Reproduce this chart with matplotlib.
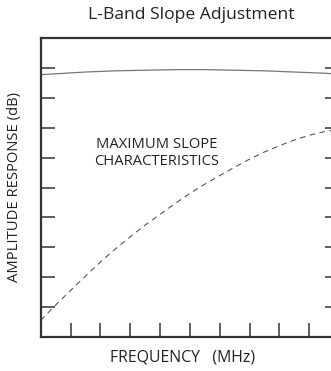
import numpy as np
import matplotlib
matplotlib.use("Agg")
import matplotlib.pyplot as plt

plt.rcParams['font.family'] = ['Open Sans', 'DejaVu Sans']

# frequency axis (arbitrary units, 0..10 grid)
freq = [0, 0.5, 1, 1.5, 2, 2.5, 3, 3.5, 4, 4.5, 5, 5.5, 6, 6.5, 7, 7.5, 8, 8.5, 9, 9.5, 10]
# flat response (solid)
flat = [8.78, 8.81, 8.84, 8.87, 8.89, 8.91, 8.92, 8.93, 8.94, 8.95, 8.95,
        8.95, 8.94, 8.93, 8.92, 8.91, 8.89, 8.87, 8.85, 8.83, 8.80]
# maximum slope (dashed)
slope = [0.55, 1.06, 1.55, 2.03, 2.50, 2.94, 3.35, 3.74, 4.10, 4.46, 4.80,
         5.11, 5.40, 5.68, 5.95, 6.19, 6.40, 6.59, 6.75, 6.87, 6.95]

ticks = [1, 2, 3, 4, 5, 6, 7, 8, 9]

fig = plt.figure(figsize=(3.31, 3.71), dpi=100)
ax = fig.add_axes([40.7/331, 1-336.7/371, (339-40.7)/331, (336.7-38.3)/371])

ax.plot(freq, flat, '-', color='#777777', lw=0.9)
ax.plot(freq, slope, '--', color='#555555', lw=0.8, dashes=(5, 4))

ax.set_xlim(0, 10)
ax.set_ylim(0, 10)
ax.set_xticks(ticks)
ax.set_yticks(ticks)
ax.set_xticklabels([])
ax.set_yticklabels([])
ax.tick_params(axis='both', direction='in', length=10, width=1.1, color='#333333')
ax.tick_params(axis='y', right=True)
for s in ['left', 'bottom', 'top']:
    ax.spines[s].set_linewidth(1.6)
    ax.spines[s].set_color('#333333')
ax.spines['right'].set_visible(False)

ax.text(3.89, 6.15, "MAXIMUM SLOPE\nCHARACTERISTICS", ha='center', va='center',
        fontsize=10.6, color='#222222', linespacing=1.2)

fig.text(191/331, 1-15/371, "L-Band Slope Adjustment", ha='center', va='center',
         fontsize=12.6, color='#222222')
fig.text(182.5/331, 1-357/371, "FREQUENCY   (MHz)", ha='center', va='center',
         fontsize=11.4, color='#222222')
fig.text(15/331, 1-187.5/371, "AMPLITUDE RESPONSE (dB)", ha='center', va='center',
         rotation=90, fontsize=10.6, color='#222222')

fig.savefig("out.png", dpi=100)
